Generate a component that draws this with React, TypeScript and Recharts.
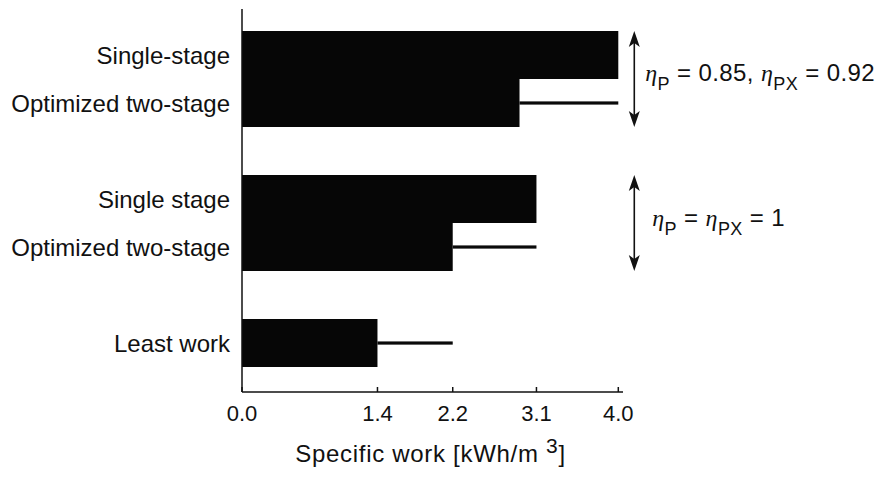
import React from 'react';
import { BarChart, Bar, XAxis, YAxis, ReferenceLine } from 'recharts';

// ---- data ----
const rowLabels = ['Single-stage', 'Optimized two-stage', 'Single stage', 'Optimized two-stage', 'Least work'];
const rowSlots = [0, 1, 3, 4, 6];
const specificWork = [4.0, 2.95, 3.13, 2.24, 1.44];
const comparedWith: (number | null)[] = [null, 4.0, null, 3.13, 2.24];
const xTickValues = [0, 1.44, 2.24, 3.13, 4.0];
const xTickLabels = ['0.0', '1.4', '2.2', '3.1', '4.0'];
const groupSpans = [
  [-0.5, 1.5],
  [2.5, 4.5],
];
const arrowX = 4.17;

type Piece = { t: string; sub?: boolean; greek?: boolean };
const groupNotes: Piece[][] = [
  [
    { t: 'η', greek: true },
    { t: 'P', sub: true },
    { t: ' = 0.85, ' },
    { t: 'η', greek: true },
    { t: 'PX', sub: true },
    { t: ' = 0.92' },
  ],
  [
    { t: 'η', greek: true },
    { t: 'P', sub: true },
    { t: ' = ' },
    { t: 'η', greek: true },
    { t: 'PX', sub: true },
    { t: ' = 1' },
  ],
];
const noteGaps = [11, 18];

const data = rowSlots.map((slot, i) => ({
  slot,
  label: rowLabels[i],
  work: specificWork[i],
  gap: comparedWith[i] == null ? 0 : (comparedWith[i] as number) - specificWork[i],
}));

const FONT = '"Liberation Sans", Arial, Helvetica, sans-serif';

const GapLine = (props: any) => {
  const { x, y, width, height } = props;
  if (!width || width <= 0) return null;
  return <rect x={x} y={y + height / 2 - 1.6} width={width} height={3.2} fill="#0a0a0a" />;
};

const NoteText = ({ x, y, pieces }: { x: number; y: number; pieces: Piece[] }) => {
  let shifted = false;
  return (
    <text x={x} y={y} fontSize={24} fill="#111" fontFamily={FONT} letterSpacing={0.4}>
      {pieces.map((p, i) => {
        let dy = 0;
        if (p.sub && !shifted) {
          dy = 9;
          shifted = true;
        } else if (!p.sub && shifted) {
          dy = -9;
          shifted = false;
        }
        return (
          <tspan
            key={i}
            dy={dy}
            fontSize={p.sub ? 18 : 24}
            fontStyle={p.greek ? 'italic' : 'normal'}
            fontFamily={p.greek ? '"Liberation Serif", "DejaVu Serif", serif' : FONT}
            style={{ whiteSpace: 'pre' }}
          >
            {p.t}
          </tspan>
        );
      })}
    </text>
  );
};

const ArrowNote = (props: any) => {
  const { x1, y1, x2, y2, idx } = props;
  const top = Math.min(y1, y2);
  const bottom = Math.max(y1, y2);
  const x = x1;
  const hl = 16;
  const hw = 5.5;
  const mid = (top + bottom) / 2;
  return (
    <g>
      <line x1={x} y1={top + 10} x2={x2} y2={bottom - 10} stroke="#111" strokeWidth={1.6} />
      <polygon points={`${x},${top} ${x - hw},${top + hl} ${x},${top + hl - 4} ${x + hw},${top + hl}`} fill="#111" />
      <polygon
        points={`${x},${bottom} ${x - hw},${bottom - hl} ${x},${bottom - hl + 4} ${x + hw},${bottom - hl}`}
        fill="#111"
      />
      <NoteText x={x + noteGaps[idx]} y={mid + 2.5} pieces={groupNotes[idx]} />
    </g>
  );
};

const AxisTitle = (props: any) => {
  const vb = props.viewBox || { x: 0, y: 0, width: 0, height: 0 };
  const cx = vb.x + vb.width / 2 - 2;
  const by = vb.y + 70;
  return (
    <text x={cx} y={by} textAnchor="middle" fontSize={24} fill="#111" fontFamily={FONT} letterSpacing={0.7}>
      <tspan>Specific work [kWh/m </tspan>
      <tspan dy={-9} fontSize={21}>3</tspan>
      <tspan dy={9}>]</tspan>
    </text>
  );
};

export default function App() {
  return (
    <div style={{ position: 'absolute', left: 0, top: 0, background: '#fff', fontFamily: FONT }}>
      <BarChart
        width={879}
        height={477}
        data={data}
        layout="vertical"
        margin={{ top: 9, right: 256, left: 0, bottom: 0 }}
        barCategoryGap={0}
        barGap={0}
      >
        <XAxis
          type="number"
          dataKey="work"
          domain={[0, 4.05]}
          ticks={xTickValues}
          interval={0}
          allowDataOverflow
          tickFormatter={(v: number) => xTickLabels[xTickValues.indexOf(v)] ?? ''}
          height={85}
          tickSize={-5}
          tickMargin={18}
          axisLine={{ stroke: '#111', strokeWidth: 1.5 }}
          tickLine={{ stroke: '#111', strokeWidth: 1.5 }}
          tick={{ fontSize: 22, fill: '#111', fontFamily: FONT }}
          label={<AxisTitle />}
        />
        <YAxis
          type="number"
          dataKey="slot"
          domain={[-0.958, 7.02]}
          allowDataOverflow
          ticks={rowSlots}
          interval={0}
          tickFormatter={(v: number) => rowLabels[rowSlots.indexOf(v)] ?? ''}
          width={242}
          tickLine={false}
          tickSize={0}
          tickMargin={12}
          axisLine={{ stroke: '#111', strokeWidth: 1.5 }}
          tick={{ fontSize: 24, fill: '#111', fontFamily: FONT }}
        />
        <Bar dataKey="work" stackId="s" fill="#060606" isAnimationActive={false} />
        <Bar dataKey="gap" stackId="s" fill="#060606" shape={<GapLine />} isAnimationActive={false} />
        {groupSpans.map((span, i) => (
          <ReferenceLine
            key={i}
            ifOverflow="visible"
            segment={[
              { x: arrowX, y: span[0] },
              { x: arrowX, y: span[1] },
            ]}
            shape={(p: any) => <ArrowNote {...p} idx={i} />}
          />
        ))}
      </BarChart>
    </div>
  );
}
